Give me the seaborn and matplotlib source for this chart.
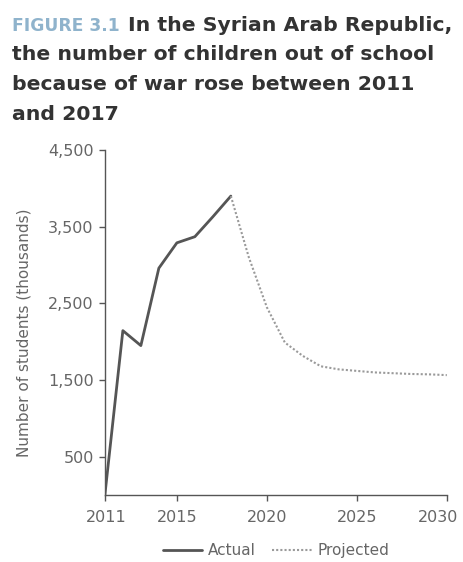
import matplotlib
matplotlib.use("Agg")
import matplotlib.pyplot as plt
import matplotlib.transforms as mtransforms
import seaborn as sns
import pandas as pd

# Data (thousands of students out of school)
actual_years = [2011, 2012, 2013, 2014, 2015, 2016, 2017, 2018]
actual_values = [0, 2145, 1950, 2960, 3290, 3370, 3630, 3900]
projected_years = [2018, 2019, 2020, 2021, 2022, 2023, 2024, 2025, 2026, 2027, 2028, 2029, 2030]
projected_values = [3900, 3100, 2450, 1990, 1815, 1680, 1640, 1620, 1600, 1590, 1580, 1575, 1565]
x_ticks = [2011, 2015, 2020, 2025, 2030]
y_ticks = [500, 1500, 2500, 3500, 4500]
y_tick_labels = ["500", "1,500", "2,500", "3,500", "4,500"]

sns.set_theme(style="white")
plt.rcParams["font.family"] = ["DejaVu Sans"]

fig = plt.figure(figsize=(4.64, 5.62), dpi=100)
ax = fig.add_axes([0.226, 0.119, 0.737, 0.614])

df_a = pd.DataFrame({"year": actual_years, "value": actual_values})
df_p = pd.DataFrame({"year": projected_years, "value": projected_values})
sns.lineplot(data=df_a, x="year", y="value", ax=ax, color="#555555", lw=2.0, label="Actual")
sns.lineplot(data=df_p, x="year", y="value", ax=ax, color="#9a9a9a", lw=1.5,
             linestyle=(0, (1, 1)), label="Projected")

ax.set_xlim(2011, 2030)
ax.set_ylim(0, 4500)
ax.set_xticks(x_ticks)
ax.set_xticklabels([str(t) for t in x_ticks])
ax.set_yticks(y_ticks)
ax.set_yticklabels(y_tick_labels)
ax.set_xlabel("")
ax.set_ylabel("Number of students (thousands)", color="#666666", fontsize=11)
ax.yaxis.set_label_coords(-0.215, 0.47)
for s in ["top", "right"]:
    ax.spines[s].set_visible(False)
for s in ["left", "bottom"]:
    ax.spines[s].set_color("#555555")
    ax.spines[s].set_linewidth(1.0)
ax.tick_params(axis="both", which="major", direction="out", length=4, width=1,
               color="#555555", labelcolor="#666666", labelsize=11.5, pad=4,
               left=True, bottom=True)
ax.tick_params(axis="x", pad=7)
ax.grid(False)

# nudge the last x label left so it stays inside the figure (as in the reference)
last = ax.get_xticklabels()[-1]
last.set_transform(last.get_transform() + mtransforms.ScaledTranslation(-9 / 100, 0, fig.dpi_scale_trans))
first = ax.get_xticklabels()[0]
first.set_transform(first.get_transform() + mtransforms.ScaledTranslation(1 / 100, 0, fig.dpi_scale_trans))

leg = ax.get_legend()
if leg is not None:
    leg.remove()
handles, labels = ax.get_legend_handles_labels()
fig.legend(handles, labels, loc="lower center", bbox_to_anchor=(0.595, -0.018), ncol=2,
           frameon=False, fontsize=11, handlelength=2.6, columnspacing=1.1,
           labelcolor="#666666", handletextpad=0.35)

# Title
fig.canvas.draw()
renderer = fig.canvas.get_renderer()
probe = fig.text(0, 0, "the number of children out of school", fontsize=12,
                 fontweight="bold")
w = probe.get_window_extent(renderer=renderer).width
probe.remove()
fs = 12 * 420.0 / w

base = 1 - 31 / 562
step = 29.5 / 562
t1 = fig.text(0.026, base, "FIGURE 3.1", fontsize=fs * 0.84, color="#8fb3cc",
              fontweight="bold", va="baseline", ha="left")
bb = t1.get_window_extent(renderer=renderer)
x2 = (bb.x1 + 8) / fig.bbox.width
fig.text(x2, base, "In the Syrian Arab Republic,", fontsize=fs, color="#333333",
         fontweight="bold", va="baseline", ha="left")
lines = ["the number of children out of school",
         "because of war rose between 2011",
         "and 2017"]
for i, ln in enumerate(lines):
    fig.text(0.026, base - (i + 1) * step, ln, fontsize=fs, color="#333333",
             fontweight="bold", va="baseline", ha="left")

fig.savefig("out.png", dpi=100, facecolor="white")
